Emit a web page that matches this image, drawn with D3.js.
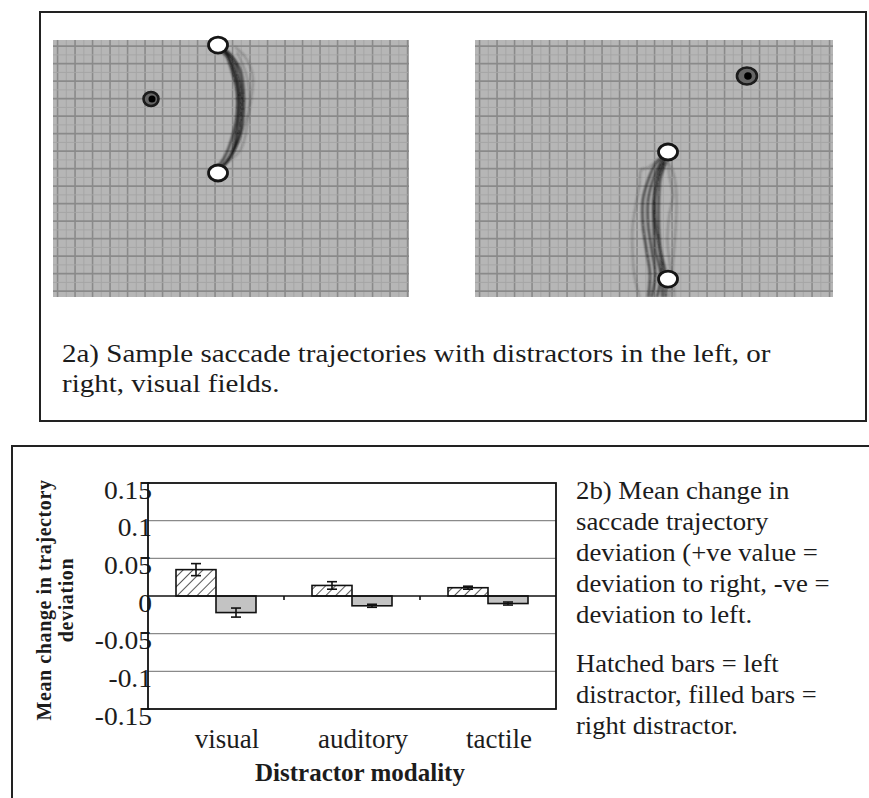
<!DOCTYPE html>
<html><head><meta charset="utf-8">
<script src="https://cdn.jsdelivr.net/npm/d3@7"></script>
<style>
body{margin:0;background:#fff}
svg{display:block}
text{font-family:"Liberation Serif","Times New Roman",serif;fill:#1c1c1c}
</style>
</head><body><svg id="c" width="869" height="798"></svg>
<script>
// ---------------- DATA ----------------
const categories = ["visual", "auditory", "tactile"];
const series = ["left", "right"];            // hatched = left distractor, filled = right distractor
const leftMeans  = [0.035, 0.014, 0.011];
const leftErr    = [0.008, 0.005, 0.002];
const rightMeans = [-0.022, -0.013, -0.010];
const rightErr   = [0.006, 0.002, 0.002];
const yTickValues = [-0.15, -0.1, -0.05, 0, 0.05, 0.1, 0.15];
const yTickLabels = ["-0.15", "-0.1", "-0.05", "0", "0.05", "0.1", "0.15"];
const yTitleLines = ["Mean change in trajectory", "deviation"];
const xTitle = "Distractor modality";
const captionA = ["2a) Sample saccade trajectories with distractors in the left, or", "right, visual fields."];
const captionB = ["2b) Mean change in", "saccade trajectory", "deviation (+ve value =", "deviation to right, -ve =", "deviation to left."];
const captionB2 = ["Hatched bars = left", "distractor, filled bars =", "right distractor."];

// Sample saccade trajectories, in grid units (x right, y down) of each display
const leftTargets = [[9.43, 0.29], [9.43, 7.6]];
const leftDistractor = [5.6, 3.37];
const leftTraces = [
  [[9.5,7.4],[10.0,6.9],[10.4,6.0],[10.6,4.9],[10.7,3.7],[10.6,2.6],[10.3,1.6],[10.0,0.9],[9.7,0.5]],
  [[9.5,7.4],[10.1,6.7],[10.6,5.7],[10.8,4.5],[10.8,3.1],[10.6,2.0],[10.3,1.1],[9.8,0.6]],
  [[9.6,7.3],[10.2,6.6],[10.7,5.4],[10.9,4.1],[10.9,2.9],[10.7,1.7],[10.2,0.9],[9.8,0.5]],
  [[9.5,7.4],[9.9,7.0],[10.3,6.2],[10.5,5.0],[10.6,3.7],[10.5,2.4],[10.2,1.3],[9.8,0.6]],
  [[9.3,7.4],[9.8,6.7],[10.2,5.7],[10.5,4.3],[10.5,2.9],[10.2,1.7],[9.9,0.9],[9.4,0.5]]
];
const leftFaintTraces = [
  [[9.8,7.1],[10.7,6.3],[11.1,4.9],[11.2,3.4],[11.1,2.2],[10.8,1.3],[10.5,0.7]],
  [[9.7,7.2],[10.3,6.4],[10.9,5.0],[11.3,3.5],[11.4,2.0],[11.0,1.0],[10.4,0.4]]
];
const rightTargets = [[11.03, 6.4], [11.03, 13.66]];
const rightDistractor = [15.54, 2.06];
const rightTraces = [
  [[10.4,14.7],[10.6,13.4],[10.3,12.0],[10.2,10.6],[10.2,9.1],[10.4,7.9],[10.7,7.0],[11.0,6.5]],
  [[10.7,14.7],[10.7,13.1],[10.5,11.7],[10.3,10.3],[10.3,8.9],[10.5,7.7],[10.9,6.9]],
  [[10.1,14.7],[10.3,13.4],[10.1,12.0],[9.9,10.6],[9.9,9.1],[10.2,7.9],[10.6,7.0],[11.0,6.5]],
  [[10.9,14.7],[10.9,13.4],[10.6,12.0],[10.5,10.6],[10.5,9.1],[10.6,7.9],[10.9,7.0]],
  [[9.9,14.7],[10.0,13.4],[9.8,12.0],[9.6,10.6],[9.6,9.1],[9.9,8.0],[10.3,7.1],[10.9,6.5]]
];
const rightFaintTraces = [
  [[9.4,14.7],[9.1,13.4],[9.0,12.0],[9.0,10.7],[9.2,9.4],[9.4,8.3],[9.5,7.4],[9.9,7.3],[10.6,6.7],[11.0,6.5]],
  [[11.4,14.7],[11.3,13.1],[11.4,11.7],[11.5,10.0],[11.5,8.6],[11.3,7.5],[11.0,6.9]],
  [[11.1,14.7],[11.2,13.7],[11.1,12.6],[11.0,11.4],[11.1,10.0],[11.3,8.9],[11.1,7.7],[11.0,6.9]]
];

// ---------------- DRAWING ----------------
const svg = d3.select("#c");
const defs = svg.append("defs");
defs.append("filter").attr("id","soft").attr("x","-20%").attr("y","-20%").attr("width","140%").attr("height","140%")
  .append("feGaussianBlur").attr("stdDeviation", 0.9);
defs.append("filter").attr("id","soft2").attr("x","-20%").attr("y","-20%").attr("width","140%").attr("height","140%")
  .append("feGaussianBlur").attr("stdDeviation", 0.6);
const hatch = defs.append("pattern").attr("id","hatch").attr("patternUnits","userSpaceOnUse")
  .attr("width", 7).attr("height", 7).attr("patternTransform","rotate(45)");
hatch.append("rect").attr("width",7).attr("height",7).attr("fill","#fff");
hatch.append("line").attr("x1",0).attr("y1",0).attr("x2",0).attr("y2",7).attr("stroke","#111").attr("stroke-width",1.4);

// frames
svg.append("rect").attr("x",40).attr("y",12).attr("width",826).attr("height",409)
  .attr("fill","none").attr("stroke","#222").attr("stroke-width",2);
svg.append("rect").attr("x",12).attr("y",446).attr("width",870).attr("height",370)
  .attr("fill","none").attr("stroke","#222").attr("stroke-width",2);

// ---- trajectory displays ----
const cell = 17.5;
function drawDisplay(id, x0, y0, w, h, targets, distractor, traces, faint, big) {
  const sx = d3.scaleLinear().domain([0, w / cell]).range([x0, x0 + w]);
  const sy = d3.scaleLinear().domain([0, h / cell]).range([y0, y0 + h]);
  const g = svg.append("g");
  defs.append("clipPath").attr("id", "clip" + id)
    .append("rect").attr("x", x0).attr("y", y0).attr("width", w).attr("height", h);
  g.append("rect").attr("x", x0).attr("y", y0).attr("width", w).attr("height", h).attr("fill", "#b6b6b6");
  const gg = g.append("g").attr("clip-path", "url(#clip" + id + ")");
  const xs = d3.range(-0.5, w / cell + 1, 0.5), ys = d3.range(-0.5, h / cell + 1, 0.5);
  const offX = 0.26, offY = 0.35;
  const gl = gg.append("g").attr("filter", "url(#soft2)");
  gl.selectAll(".vx").data(xs).join("line")
    .attr("x1", d => sx(d + offX)).attr("x2", d => sx(d + offX)).attr("y1", y0).attr("y2", y0 + h)
    .attr("stroke", d => Number.isInteger(d) ? "#8a8a8a" : "#a6a6a6").attr("stroke-width", d => Number.isInteger(d) ? 1.6 : 1);
  gl.selectAll(".hy").data(ys).join("line")
    .attr("y1", d => sy(d + offY)).attr("y2", d => sy(d + offY)).attr("x1", x0).attr("x2", x0 + w)
    .attr("stroke", d => Number.isInteger(d) ? "#8a8a8a" : "#a6a6a6").attr("stroke-width", d => Number.isInteger(d) ? 1.6 : 1);
  const line = d3.line().x(d => sx(d[0])).y(d => sy(d[1])).curve(d3.curveCatmullRom);
  const tg = gg.append("g").attr("filter", "url(#soft)");
  tg.selectAll(".f").data(faint).join("path").attr("d", line)
    .attr("fill", "none").attr("stroke", "#333").attr("stroke-opacity", 0.5).attr("stroke-width", 1.3);
  tg.selectAll(".t").data(traces).join("path").attr("d", line)
    .attr("fill", "none").attr("stroke", "#0a0a0a").attr("stroke-opacity", 0.7).attr("stroke-width", 2.2);
  const cg = g.append("g").attr("filter", "url(#soft2)");
  cg.selectAll(".tg").data(targets).join("ellipse")
    .attr("cx", d => sx(d[0])).attr("cy", d => sy(d[1])).attr("rx", 9.5).attr("ry", 8)
    .attr("fill", "#fff").attr("stroke", "#151515").attr("stroke-width", 2.8);
  cg.append("ellipse").attr("cx", sx(distractor[0])).attr("cy", sy(distractor[1]))
    .attr("rx", big ? 10 : 7.5).attr("ry", big ? 8.5 : 7)
    .attr("fill", "#666").attr("stroke", "#1a1a1a").attr("stroke-width", 2.6);
  cg.append("circle").attr("cx", sx(distractor[0]) + 1).attr("cy", sy(distractor[1]))
    .attr("r", big ? 3.8 : 3.5).attr("fill", "#000");
}
drawDisplay("L", 53, 40, 356, 257, leftTargets, leftDistractor, leftTraces, leftFaintTraces, false);
drawDisplay("R", 475, 40, 358, 257, rightTargets, rightDistractor, rightTraces, rightFaintTraces, true);

// caption A (the source figure is stretched horizontally)
svg.append("g").selectAll("text").data(captionA).join("text")
  .attr("transform", (d, i) => `translate(62,${362 + i * 30}) scale(1.16,1)`)
  .style("font-size", "25px").text(d => d);

// ---- bar chart ----
const plot = {l: 148, r: 556, t: 483, b: 709};
const x = d3.scaleBand().domain(categories).range([plot.l, plot.r]);
const xs = d3.scaleBand().domain(series).range([0, x.bandwidth()]).paddingOuter(0.7);
const y = d3.scaleLinear().domain([-0.15, 0.15]).range([plot.b, plot.t]);
const bars = svg.append("g");
// gridlines
bars.selectAll(".grid").data(yTickValues.filter(v => v !== 0 && Math.abs(v) < 0.15)).join("line")
  .attr("x1", plot.l).attr("x2", plot.r).attr("y1", d => y(d)).attr("y2", d => y(d))
  .attr("stroke", "#8a8a8a").attr("stroke-width", 1.3);
const data = categories.map((c, i) => [
  {cat: c, s: "left", v: leftMeans[i], e: leftErr[i]},
  {cat: c, s: "right", v: rightMeans[i], e: rightErr[i]}
]).flat();
bars.selectAll(".bar").data(data).join("rect")
  .attr("x", d => x(d.cat) + xs(d.s)).attr("width", xs.bandwidth())
  .attr("y", d => y(Math.max(0, d.v))).attr("height", d => Math.abs(y(d.v) - y(0)))
  .attr("fill", d => d.s === "left" ? "url(#hatch)" : "#c3c3c3")
  .attr("stroke", "#111").attr("stroke-width", 1.6);
// error bars
const eb = bars.selectAll(".eb").data(data).join("g");
const cx = d => x(d.cat) + xs(d.s) + xs.bandwidth() / 2;
eb.append("line").attr("x1", cx).attr("x2", cx).attr("y1", d => y(d.v - d.e)).attr("y2", d => y(d.v + d.e))
  .attr("stroke", "#111").attr("stroke-width", 1.6);
eb.append("line").attr("x1", d => cx(d) - 5).attr("x2", d => cx(d) + 5).attr("y1", d => y(d.v + d.e)).attr("y2", d => y(d.v + d.e))
  .attr("stroke", "#111").attr("stroke-width", 1.6);
eb.append("line").attr("x1", d => cx(d) - 5).attr("x2", d => cx(d) + 5).attr("y1", d => y(d.v - d.e)).attr("y2", d => y(d.v - d.e))
  .attr("stroke", "#111").attr("stroke-width", 1.6);
// zero line + category ticks
bars.append("line").attr("x1", plot.l).attr("x2", plot.r).attr("y1", y(0)).attr("y2", y(0))
  .attr("stroke", "#111").attr("stroke-width", 1.6);
bars.selectAll(".ct").data(categories.slice(1)).join("line")
  .attr("x1", d => x(d)).attr("x2", d => x(d)).attr("y1", y(0)).attr("y2", y(0) + 4)
  .attr("stroke", "#111").attr("stroke-width", 1.6);
// y axis labels (drawn under the plot border, as in the source)
const yAxis = d3.axisLeft(y).tickValues(yTickValues).tickSize(0).tickPadding(0)
  .tickFormat((d, i) => yTickLabels[i]);
const ya = bars.append("g").attr("transform", `translate(${plot.l + 4},0)`).call(yAxis);
ya.select(".domain").remove();
ya.selectAll("text").attr("dy", "0.6em").attr("transform", "scale(1.1,1)").attr("x", -0)
  .style("font-size", "25px").style("font-family", '"Liberation Serif",serif').attr("fill", "#1c1c1c");
ya.selectAll(".tick").each(function() {
  const t = d3.select(this);
  const tr = t.attr("transform");
  t.attr("transform", tr);
});
// plot border
bars.append("rect").attr("x", plot.l).attr("y", plot.t).attr("width", plot.r - plot.l).attr("height", plot.b - plot.t)
  .attr("fill", "none").attr("stroke", "#111").attr("stroke-width", 1.8);
// x labels
svg.append("g").selectAll("text").data(categories).join("text")
  .attr("x", d => x(d) + x.bandwidth() / 2 + 11).attr("y", 748).attr("text-anchor", "middle")
  .style("font-size", "27px").text(d => d);
svg.append("text").attr("x", 360).attr("y", 781).attr("text-anchor", "middle")
  .style("font-size", "25px").style("font-weight", "bold").text(xTitle);
svg.append("g").selectAll("text").data(yTitleLines).join("text")
  .attr("transform", (d, i) => `translate(51 + ${0},600)`)
  .attr("transform", (d, i) => `translate(${51 + i * 22},600) rotate(-90)`).attr("text-anchor", "middle")
  .style("font-size", "20px").style("font-weight", "bold").style("letter-spacing", "0.6px").text(d => d);
// caption B
svg.append("g").selectAll("text").data(captionB).join("text")
  .attr("transform", (d, i) => `translate(576,${499 + i * 31}) scale(1.03,1)`)
  .style("font-size", "26px").text(d => d);
svg.append("g").selectAll("text").data(captionB2).join("text")
  .attr("transform", (d, i) => `translate(576,${672 + i * 31}) scale(1.02,1)`)
  .style("font-size", "26px").text(d => d);
</script></body></html>
